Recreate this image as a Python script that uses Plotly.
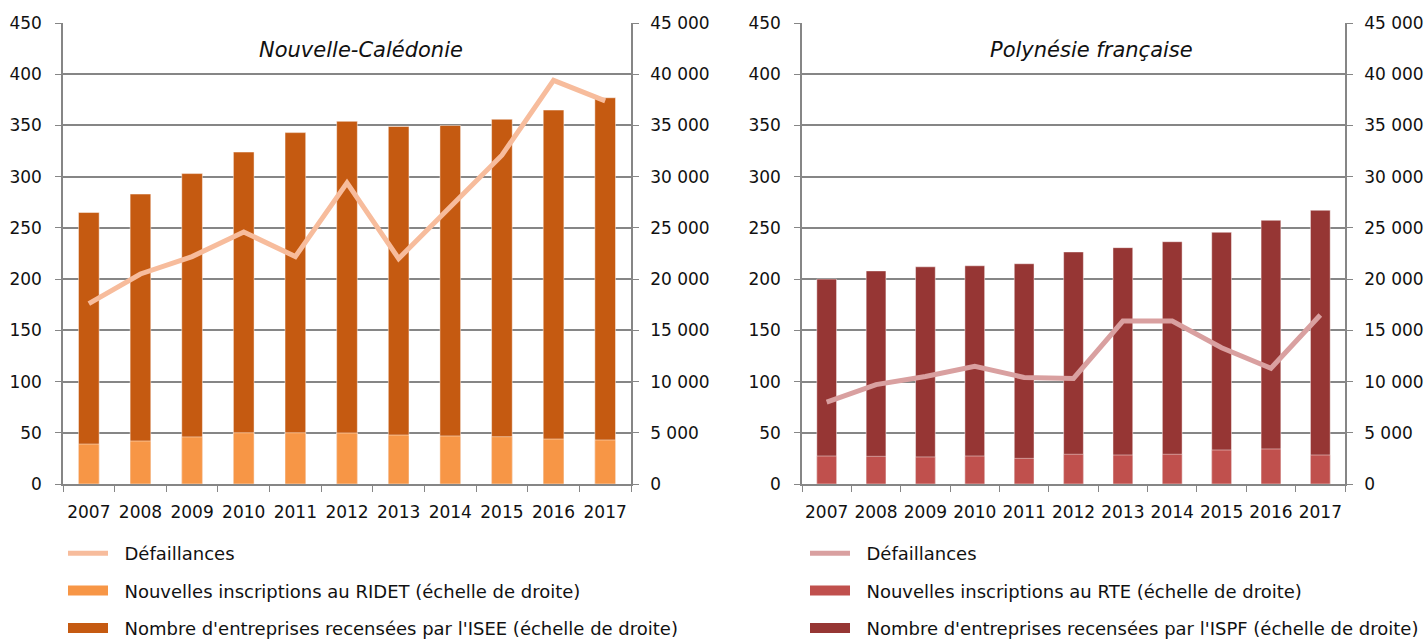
import plotly.graph_objects as go

years = [str(y) for y in range(2007, 2018)]

# Nouvelle-Calédonie
nc_defaillances = [176, 205, 222, 246, 222, 294, 220, 270, 321, 394, 374]
nc_inscriptions = [3900, 4200, 4600, 5000, 5000, 4980, 4780, 4690, 4620, 4390, 4300]
nc_entreprises = [26500, 28300, 30300, 32400, 34300, 35400, 34900, 35000, 35600, 36500, 37700]

# Polynésie française
pf_defaillances = [80, 97, 105, 115, 104, 103, 159, 159, 133, 113, 165]
pf_inscriptions = [2730, 2700, 2640, 2730, 2500, 2900, 2830, 2900, 3320, 3420, 2830]
pf_entreprises = [20000, 20800, 21200, 21300, 21500, 22650, 23070, 23650, 24570, 25740, 26720]

left_ticks = list(range(0, 451, 50))
right_ticks = list(range(0, 45001, 5000))
right_labels = ["0" if v == 0 else "{:,}".format(v).replace(",", " ") for v in right_ticks]

# body margin is removed in the page (post_script), so the figure fills the window
W, H = 1426, 639

def fx(px):
    return px / W

def fy(py):
    return 1 - py / H

grey = "#868686"
tick_font = dict(family="DejaVu Sans", size=17, color="#111111")
legend_font = dict(family="DejaVu Sans", size=18, color="#111111")
pad = "\u00a0\u00a0"

panels = [
    dict(title="Nouvelle-Calédonie", defa=nc_defaillances, ins=nc_inscriptions, ent=nc_entreprises,
         ins_name="Nouvelles inscriptions au RIDET (échelle de droite)",
         ent_name="Nombre d'entreprises recensées par l'ISEE (échelle de droite)",
         c_line="#F7BC9C", c_ins="#F79646", c_ent="#C55A11",
         xa="x", ybar="y", yline="y2", legend="legend"),
    dict(title="Polynésie française", defa=pf_defaillances, ins=pf_inscriptions, ent=pf_entreprises,
         ins_name="Nouvelles inscriptions au RTE (échelle de droite)",
         ent_name="Nombre d'entreprises recensées par l'ISPF (échelle de droite)",
         c_line="#D9A0A0", c_ins="#C0504D", c_ent="#963634",
         xa="x2", ybar="y3", yline="y4", legend="legend2"),
]

fig = go.Figure()
for p in panels:
    bar_edge = dict(color="rgba(255,255,255,0.45)", width=1)
    fig.add_trace(go.Bar(x=years, y=p["ent"], name=p["ent_name"], xaxis=p["xa"], yaxis=p["ybar"],
                         marker=dict(color=p["c_ent"], line=bar_edge), width=0.4, showlegend=False))
    fig.add_trace(go.Bar(x=years, y=p["ins"], name=p["ins_name"], xaxis=p["xa"], yaxis=p["ybar"],
                         marker=dict(color=p["c_ins"], line=bar_edge), width=0.4, showlegend=False))
    fig.add_trace(go.Scatter(x=years, y=p["defa"], name=pad + "Défaillances", mode="lines",
                             xaxis=p["xa"], yaxis=p["yline"],
                             line=dict(color=p["c_line"], width=5),
                             legend=p["legend"], legendrank=1, legendgroup=p["legend"] + "a"))
    # legend swatches for the bars (wide rectangles like the original)
    fig.add_trace(go.Scatter(x=[None], y=[None], name=pad + p["ins_name"], mode="lines",
                             xaxis=p["xa"], yaxis=p["yline"], line=dict(color=p["c_ins"], width=14),
                             legend=p["legend"], legendrank=2, legendgroup=p["legend"] + "b"))
    fig.add_trace(go.Scatter(x=[None], y=[None], name=pad + p["ent_name"], mode="lines",
                             xaxis=p["xa"], yaxis=p["yline"], line=dict(color=p["c_ent"], width=14),
                             legend=p["legend"], legendrank=3, legendgroup=p["legend"] + "c"))

ydom = [fy(484), fy(23)]
xdoms = [[fx(63), fx(631)], [fx(802), fx(1345)]]

layout = dict(
    width=W, height=H,
    margin=dict(l=0, r=0, t=0, b=0, autoexpand=False),
    paper_bgcolor="white", plot_bgcolor="white",
    barmode="overlay", showlegend=True,
)

for i, p in enumerate(panels):
    xa = "xaxis" if i == 0 else "xaxis2"
    ybar = "yaxis" if i == 0 else "yaxis3"
    yline = "yaxis2" if i == 0 else "yaxis4"
    ybar_id = "y" if i == 0 else "y3"
    layout[xa] = dict(domain=xdoms[i], anchor=ybar_id, type="category", showline=True, linecolor=grey,
                      linewidth=1.5, ticks="outside", tickson="boundaries", ticklen=6, tickcolor=grey,
                      tickangle=0, tickfont=tick_font, ticklabelstandoff=12, showgrid=False, fixedrange=True)
    layout[ybar] = dict(domain=ydom, anchor=p["xa"], side="right", range=[0, 45000], tickvals=right_ticks,
                        ticktext=right_labels, showline=True, linecolor=grey, linewidth=1.5, ticks="outside",
                        ticklen=6, tickcolor=grey, tickfont=tick_font, ticklabelstandoff=8,
                        showgrid=True, gridcolor=grey, gridwidth=1.5, zeroline=False)
    layout[yline] = dict(overlaying=ybar_id, anchor=p["xa"], side="left", range=[0, 450],
                         tickvals=left_ticks, showline=True, linecolor=grey, linewidth=1.5, ticks="outside",
                         ticklen=6, tickcolor=grey, tickfont=tick_font, ticklabelstandoff=10,
                         showgrid=False, zeroline=False)

for name, lx in (("legend", 63), ("legend2", 805)):
    layout[name] = dict(x=fx(lx), y=fy(535), xanchor="left", yanchor="top",
                        font=legend_font, tracegroupgap=11, traceorder="grouped",
                        itemwidth=40, bgcolor="rgba(0,0,0,0)")

fig.update_layout(**layout)

titles_x = [fx(361), fx(1091)]
for i, p in enumerate(panels):
    fig.add_annotation(text="<i>" + p["title"] + "</i>", x=titles_x[i], y=fy(50),
                       xref="paper", yref="paper", xanchor="center", yanchor="middle", showarrow=False,
                       font=dict(family="DejaVu Sans", size=21, color="#111111"))

fig.write_html("out.html", config={"displayModeBar": False},
               post_script="document.body.style.margin='0';document.body.style.overflow='hidden';")
